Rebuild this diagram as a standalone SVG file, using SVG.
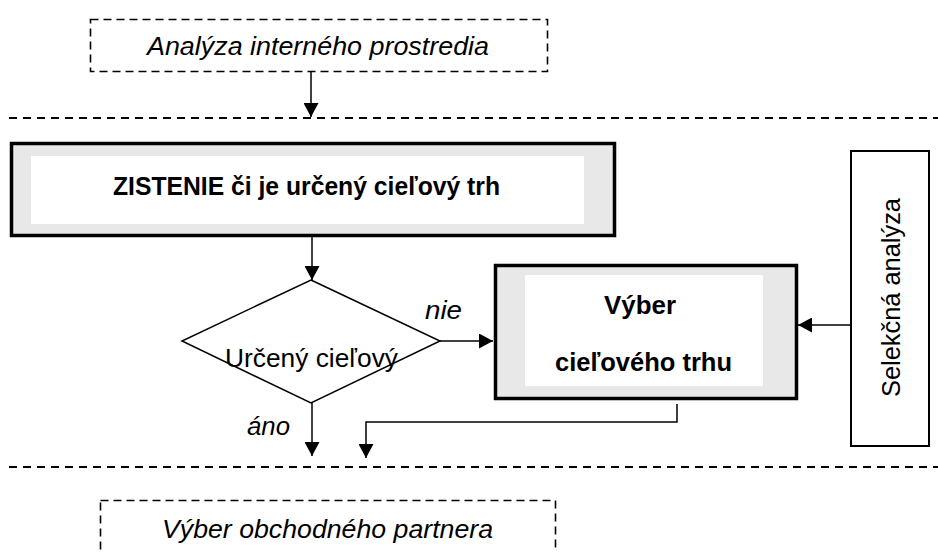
<svg xmlns="http://www.w3.org/2000/svg" width="938" height="552" viewBox="0 0 938 552">
  <style>
    text { font-family: "Liberation Sans", Arial, sans-serif; font-size: 25.5px; fill: #000; }
    .it { font-style: italic; }
    .b { font-weight: bold; }
    .dash-box { fill: none; stroke: #000; stroke-width: 1.6; stroke-dasharray: 8 5; }
    .sep { fill: none; stroke: #000; stroke-width: 2; stroke-dasharray: 8 6; }
    .frame { fill: #e8e8e8; stroke: #000; stroke-width: 3.5; }
    .inner { fill: #fff; stroke: none; }
    .edge { fill: none; stroke: #000; stroke-width: 1.5; }
  </style>
  <defs>
    <marker id="arrow" markerUnits="userSpaceOnUse" markerWidth="15" markerHeight="15" refX="14" refY="7.5" orient="auto">
      <path d="M0,0 L14,7.5 L0,15 z" fill="#000"/>
    </marker>
  </defs>

  <rect width="938" height="552" fill="#fff"/>

  <!-- phase separators -->
  <line class="sep" x1="9" y1="118" x2="938" y2="118"/>
  <line class="sep" x1="9" y1="467" x2="938" y2="467"/>

  <g id="node-internal-analysis">
    <rect class="dash-box" x="90.5" y="19.5" width="457" height="52"/>
    <text class="it" x="147" y="55" textLength="342" lengthAdjust="spacingAndGlyphs">Analýza interného prostredia</text>
  </g>

  <g id="node-zistenie">
    <rect class="frame" x="11.5" y="143.5" width="603" height="92"/>
    <rect class="inner" x="31" y="156" width="553" height="68"/>
    <text class="b" x="113" y="195" textLength="387" lengthAdjust="spacingAndGlyphs">ZISTENIE či je určený cieľový trh</text>
  </g>

  <g id="node-decision">
    <polygon class="edge" points="311,280 440,341 311,403 182,341"/>
    <text x="225" y="367" textLength="173" lengthAdjust="spacingAndGlyphs">Určený cieľový</text>
  </g>

  <g id="node-vyber-trhu">
    <rect class="frame" x="495.5" y="265.5" width="301" height="133"/>
    <rect class="inner" x="525" y="275" width="238" height="111"/>
    <text class="b" x="604" y="314" textLength="72" lengthAdjust="spacingAndGlyphs">Výber</text>
    <text class="b" x="555" y="371" textLength="177" lengthAdjust="spacingAndGlyphs">cieľového trhu</text>
  </g>

  <g id="node-selekcna">
    <rect x="851" y="151" width="78" height="295" fill="#fff" stroke="#000" stroke-width="2"/>
    <text transform="translate(900,397) rotate(-90)" textLength="199" lengthAdjust="spacingAndGlyphs">Selekčná analýza</text>
  </g>

  <g id="node-partner">
    <rect class="dash-box" x="100.5" y="500.5" width="455" height="70"/>
    <text class="it" x="162" y="538" textLength="331" lengthAdjust="spacingAndGlyphs">Výber obchodného partnera</text>
  </g>

  <g id="connectors">
    <line class="edge" x1="311" y1="72" x2="311" y2="117" marker-end="url(#arrow)"/>
    <line class="edge" x1="312" y1="237" x2="312" y2="280" marker-end="url(#arrow)"/>
    <line class="edge" x1="440" y1="341" x2="493" y2="341" marker-end="url(#arrow)"/>
    <line class="edge" x1="851" y1="325" x2="798" y2="325" marker-end="url(#arrow)"/>
    <line class="edge" x1="312" y1="403" x2="312" y2="456" marker-end="url(#arrow)"/>
    <polyline class="edge" points="677,404 677,422 366,422 366,458" marker-end="url(#arrow)"/>
    <text class="it" x="425" y="319" textLength="37" lengthAdjust="spacingAndGlyphs">nie</text>
    <text class="it" x="247" y="435" textLength="43" lengthAdjust="spacingAndGlyphs">áno</text>
  </g>
</svg>
